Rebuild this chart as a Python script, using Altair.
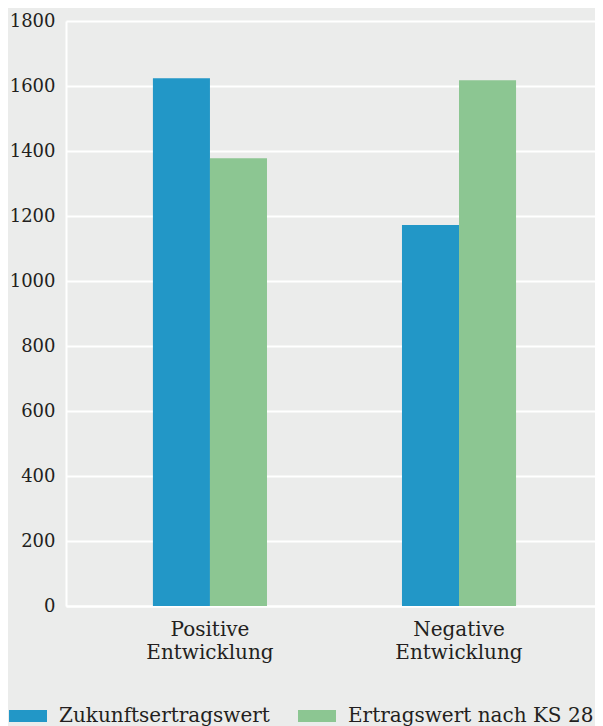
import altair as alt
import pandas as pd

categories = ["Positive Entwicklung", "Negative Entwicklung"]
series = ["Zukunftsertragswert", "Ertragswert nach KS 28"]
zukunft = [1624, 1172]
ertrag = [1378, 1618]
colors = ["#2297c7", "#8cc692"]
y_ticks = [0, 200, 400, 600, 800, 1000, 1200, 1400, 1600, 1800]

rows = []
for i, c in enumerate(categories):
    rows.append({"cat": c, "series": series[0], "value": zukunft[i]})
    rows.append({"cat": c, "series": series[1], "value": ertrag[i]})
df = pd.DataFrame(rows)

FONT = "DejaVu Serif"
TXT = "#231f20"
BG = "#ebeceb"

chart = alt.Chart(df).mark_bar().encode(
    x=alt.X(
        "cat:N", sort=categories, title=None,
        scale=alt.Scale(paddingInner=0.542, paddingOuter=0.333, align=0.524),
        axis=alt.Axis(labelAngle=0, labelExpr="split(datum.label, ' ')",
                      labelFont=FONT, labelFontSize=20, labelColor=TXT,
                      labelLineHeight=23, labelPadding=13, ticks=False,
                      domainColor="white", domainWidth=2, grid=False),
    ),
    xOffset=alt.XOffset("series:N", sort=series,
                        scale=alt.Scale(paddingInner=0, paddingOuter=0)),
    y=alt.Y(
        "value:Q", title=None,
        scale=alt.Scale(domain=[0, 1800], nice=False),
        axis=alt.Axis(values=y_ticks, format="d", labelFont=FONT, labelFontSize=18,
                      labelColor=TXT, labelPadding=11, ticks=False,
                      domainColor="white", domainWidth=2,
                      gridColor="white", gridWidth=2),
    ),
    color=alt.Color(
        "series:N", sort=series,
        scale=alt.Scale(domain=series, range=colors),
        legend=alt.Legend(title=None, orient="none", legendX=-57, legendY=676,
                          direction="horizontal",
                          symbolType="M-1,-0.32H1V0.32H-1Z", symbolSize=1444,
                          symbolStrokeWidth=0, symbolOpacity=1,
                          labelFont=FONT, labelFontSize=20, labelColor=TXT,
                          labelLimit=0, labelOffset=12, columnPadding=28),
    ),
).properties(
    width=529, height=585,
    padding={"left": 58, "top": 13, "right": 0, "bottom": 120},
    autosize="none", background=BG,
).configure_view(stroke=None)

chart.save("out.html", embed_options={"renderer": "svg", "actions": False})
